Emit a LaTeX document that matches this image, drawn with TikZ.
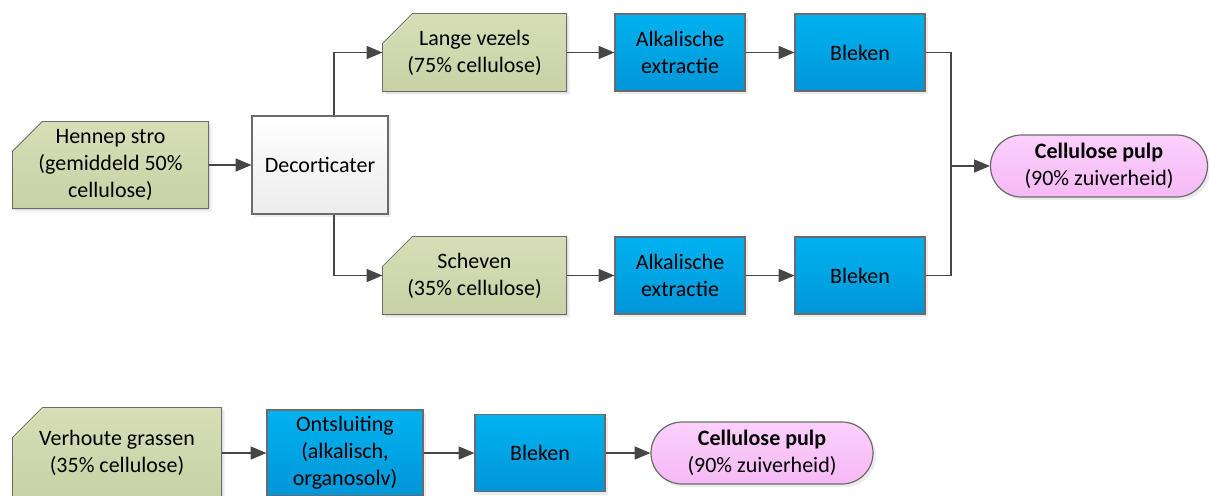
\documentclass[tikz,border=0pt]{standalone}
\usepackage{fontspec}
\setmainfont{Carlito}
\usetikzlibrary{arrows,shapes.misc,shadows,backgrounds}

\definecolor{rawgreen}{RGB}{215,222,183}
\definecolor{rawgreendark}{RGB}{200,210,165}
\definecolor{procblue}{RGB}{0,178,240}
\definecolor{procbluedark}{RGB}{0,150,215}
\definecolor{pulppink}{RGB}{252,208,252}
\definecolor{pulppinkdark}{RGB}{245,185,245}
\definecolor{edgegray}{RGB}{70,70,70}

\begin{document}
\begin{tikzpicture}[x=0.5pt,y=-0.5pt,>=triangle 45,semithick,
            every node/.style={font=\fontsize{11}{13.4}\selectfont,align=center,inner sep=0pt},
            base/.style={draw=edgegray!80,drop shadow={shadow xshift=1.5pt,shadow yshift=-1.5pt,opacity=0.15}},
            raw node/.style={rectangle},
            raw shape/.style={base,top color=rawgreen,bottom color=rawgreendark},
            proc node/.style={base,rectangle,top color=procblue,bottom color=procbluedark,
                minimum width=65pt,minimum height=38.5pt},
            dec node/.style={base,rectangle,top color=white,bottom color=gray!15,
                minimum width=68pt,minimum height=49pt},
            pulp node/.style={base,rounded rectangle,top color=pulppink,bottom color=pulppinkdark},
            line/.style={->,draw=edgegray,thick}]
            \useasboundingbox (0,0) rectangle (1209,495);
            % top chain
            \node[raw node, minimum width=97.5pt, minimum height=43pt] (hemp) at (110.5,165) {Hennep stro\\(gemiddeld 50\%\\cellulose)};
            \node[dec node] (dec) at (320,165) {Decorticater};
            \node[raw node, minimum width=91.5pt, minimum height=38.5pt] (long) at (474.5,52.5) {Lange vezels\\(75\% cellulose)};
            \node[proc node] (alk1) at (680,52.5) {Alkalische\\extractie};
            \node[proc node] (blk1) at (860,52.5) {Bleken};
            \node[raw node, minimum width=91.5pt, minimum height=38.5pt] (shiv) at (474.5,275.5) {Scheven\\(35\% cellulose)};
            \node[proc node] (alk2) at (680,275.5) {Alkalische\\extractie};
            \node[proc node] (blk2) at (860,275.5) {Bleken};
            \node[pulp node, minimum width=108.5pt, minimum height=31pt] (pulp1) at (1099,166) {\textbf{Cellulose pulp}\\(90\% zuiverheid)};
            \coordinate (split) at (334,165);
            \coordinate (merge) at (951,166);
            % bottom chain
            \node[raw node, minimum width=104pt, minimum height=45pt] (grass) at (117,453) {Verhoute grassen\\(35\% cellulose)};
            \node[proc node, minimum width=78pt, minimum height=43pt] (pulping) at (345,453) {Ontsluiting\\(alkalisch,\\organosolv)};
            \node[proc node] (blk3) at (540,453) {Bleken};
            \node[pulp node, minimum width=111pt, minimum height=31pt] (pulp2) at (762,453) {\textbf{Cellulose pulp}\\(90\% zuiverheid)};
            % cut-corner outlines of the raw materials
            \begin{scope}[on background layer]
            \foreach \n in {hemp,long,shiv,grass}
                \draw[raw shape] (\n.south west) -- ([yshift=-15pt]\n.north west) -- ([xshift=15pt]\n.north west)
                    -- (\n.north east) -- (\n.south east) -- cycle;
            \end{scope}
            \draw[line] (hemp) -- (dec);
            \draw[line] (split |- dec.north) |- (long);
            \draw[line] (split |- dec.south) |- (shiv);
            \draw[line] (long) -- (alk1);
            \draw[line] (alk1) -- (blk1);
            \draw[line] (shiv) -- (alk2);
            \draw[line] (alk2) -- (blk2);
            \draw[draw=edgegray,thick] (blk1.east) -| (merge) |- (blk2.east);
            \draw[line] (merge) -- (pulp1);
            \draw[line] (grass) -- (pulping);
            \draw[line] (pulping) -- (blk3);
            \draw[line] (blk3) -- (pulp2);
        \end{tikzpicture}
\end{document}
